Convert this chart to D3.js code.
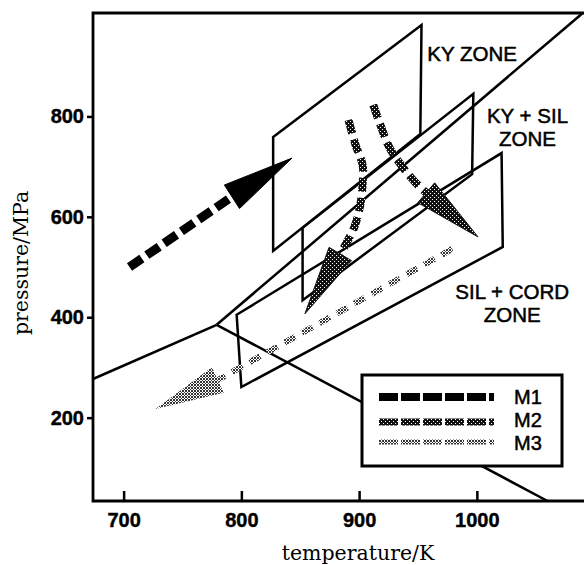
<!DOCTYPE html>
<html>
<head>
<meta charset="utf-8">
<script src="https://cdnjs.cloudflare.com/ajax/libs/d3/7.8.5/d3.min.js"></script>
<style>
  body { margin: 0; background: #fff; }
  .axisTitle { font-family: "DejaVu Serif", serif; font-size: 20.5px; }
  .zoneLabel { font-family: "Liberation Sans", Arial, sans-serif; font-size: 20.5px; }
  .legendText { font-family: "Liberation Sans", Arial, sans-serif; font-size: 20px; }
</style>
</head>
<body>
<script>
// Data (temperature in K, pressure in MPa)

let tempTicks = [700, 800, 900, 1000]
let pressTicks = [200, 400, 600, 800]

// Al2SiO5 reaction lines meeting at the triple point
let triplePoint = [779, 385]
let kyAndLine = [[674, 277], triplePoint]
let kySilLine = [triplePoint, [1090, 1006]]
let andSilLine = [triplePoint, [1060, 34]]

// zone planes, corners in order
let kyZone = [[827, 759], [953, 982], [952, 765], [827, 532]]
let kySilZone = [[852, 578], [997, 845], [996, 685], [852, 434]]
let silCordZone = [[796, 405], [1021, 727], [1022, 540], [800, 261]]

let zoneNames = [["KY ZONE"], ["KY + SIL", "ZONE"], ["SIL + CORD", "ZONE"]]
let zoneLabelAt = [[996, 910], [1043, 786], [1030, 436]]

// P-T paths: shaft points (last one is the arrow head base), then the tip
let m1Path = [[705, 500], [792, 640]]
let m1Tip = [843, 717]
let m2PathA = [[891, 793], [897, 743], [903, 703], [903, 666], [901, 624], [896, 580], [884, 526]]
let m2TipA = [854, 407]
let m2PathB = [[912, 823], [919, 777], [926, 737], [937, 699], [948, 668], [957, 648]]
let m2TipB = [1001, 560]
let m3Path = [[979, 536], [780, 275]]
let m3Tip = [727, 217]

let seriesNames = ["M1", "M2", "M3"]

// Chart setup

let svgWidth = 584
let svgHeight = 565

var margin = {
    top: 13,
    right: 0,
    bottom: 64,
    left: 93
  };

let width = svgWidth - margin.left - margin.right;
let height = svgHeight - margin.top - margin.bottom;

let svg = d3.select("body")
          .append("svg")
          .attr('width', svgWidth)
          .attr('height', svgHeight)

// stipple fills for M2 and M3
let defs = svg.append("defs")
let dark = defs.append("pattern").attr("id", "stippleDark")
    .attr("width", 4).attr("height", 4).attr("patternUnits", "userSpaceOnUse")
dark.append("rect").attr("width", 4).attr("height", 4).attr("fill", "#111")
dark.append("rect").attr("x", 1).attr("y", 0).attr("width", 1).attr("height", 1).attr("fill", "#fff")
dark.append("rect").attr("x", 3).attr("y", 2).attr("width", 1).attr("height", 1).attr("fill", "#fff")

let light = defs.append("pattern").attr("id", "stippleLight")
    .attr("width", 3).attr("height", 3).attr("patternUnits", "userSpaceOnUse")
light.append("rect").attr("width", 3).attr("height", 3).attr("fill", "#fff")
;[[0, 0], [2, 0], [1, 1], [0, 2], [2, 2]].forEach(c => {
    light.append("rect").attr("x", c[0]).attr("y", c[1]).attr("width", 1).attr("height", 1).attr("fill", "#333")
})

let chartGroup = svg.append("g")
  .attr("transform", `translate(${margin.left}, ${margin.top})`)

let xScale = d3.scaleLinear()
    .domain([674, 1091])
    .range([0, width]);

let yScale = d3.scaleLinear()
    .domain([34, 1006])
    .range([height, 0]);

let pt = d => [xScale(d[0]), yScale(d[1])]
let straight = d3.line().x(d => xScale(d[0])).y(d => yScale(d[1]))
let smooth = d3.line().curve(d3.curveCatmullRom.alpha(0.5)).x(d => xScale(d[0])).y(d => yScale(d[1]))

// Axes

let bottomAxis = d3.axisBottom(xScale).tickValues(tempTicks).tickFormat(d3.format("d"))
    .tickSize(-10).tickPadding(12).tickSizeOuter(0);
let leftAxis = d3.axisLeft(yScale).tickValues(pressTicks).tickFormat(d3.format("d"))
    .tickSize(6).tickPadding(3).tickSizeOuter(0);

chartGroup.append("g")
    .attr("transform", `translate(0, ${height})`)
    .call(bottomAxis);

chartGroup.append("g")
    .call(leftAxis);

chartGroup.selectAll(".domain").remove()
chartGroup.selectAll(".tick line").attr("stroke", "#000").attr("stroke-width", 2.5)
chartGroup.selectAll(".tick text")
    .attr("fill", "#000")
    .attr("stroke", "#000")
    .attr("stroke-width", 0.4)
    .attr("font-family", '"Liberation Sans", Arial, sans-serif')
    .attr("font-size", 20)
    .attr("font-weight", "bold")

// frame (right side runs off the page)
chartGroup.append("path")
    .attr("d", `M${width + 6},0 H0 V${height} H${width + 6}`)
    .attr("fill", "none")
    .attr("stroke", "#000")
    .attr("stroke-width", 2.8)

// Reaction lines

let lineGroup = chartGroup.append("g")
    .attr("fill", "none")
    .attr("stroke", "#000")
    .attr("stroke-width", 2.5)

;[kyAndLine, kySilLine, andSilLine].forEach(l => {
    lineGroup.append("path").attr("d", straight(l))
})

// Zones

;[kyZone, kySilZone, silCordZone].forEach(z => {
    lineGroup.append("polygon")
        .attr("points", z.map(d => pt(d).join(",")).join(" "))
        .attr("stroke-linejoin", "miter")
})

zoneNames.forEach((lines, i) => {
    let p = pt(zoneLabelAt[i])
    let t = chartGroup.append("text")
        .attr("class", "zoneLabel")
        .attr("text-anchor", "middle")
        .attr("fill", "#000")
        .attr("stroke", "#000")
        .attr("stroke-width", 0.5)
    lines.forEach((s, j) => {
        t.append("tspan").attr("x", p[0]).attr("y", p[1] + j * 23).text(s)
    })
})

// Arrows

function drawArrow(path, tip, style) {
    chartGroup.append("path")
        .attr("d", path.length > 2 ? smooth(path) : straight(path))
        .attr("fill", "none")
        .attr("stroke", style.color)
        .attr("stroke-width", style.width)
        .attr("stroke-dasharray", style.dash)

    let b = pt(path[path.length - 1])
    let t = pt(tip)
    let len = Math.hypot(t[0] - b[0], t[1] - b[1])
    let ux = (t[0] - b[0]) / len, uy = (t[1] - b[1]) / len
    let hw = style.head
    chartGroup.append("polygon")
        .attr("points", [t, [b[0] - uy * hw, b[1] + ux * hw], [b[0] + uy * hw, b[1] - ux * hw]].map(d => d.join(",")).join(" "))
        .attr("fill", style.color)
        .attr("stroke", style.edge)
        .attr("stroke-width", 1)
}

let m1Style = {color: "#000", width: 9, dash: "15,6", head: 14, edge: "#000"}
let m2Style = {color: "url(#stippleDark)", width: 8, dash: "14,6", head: 13, edge: "#111"}
let m3Style = {color: "url(#stippleLight)", width: 6, dash: "12,8", head: 14, edge: "none"}

drawArrow(m1Path, m1Tip, m1Style)
drawArrow(m2PathA, m2TipA, m2Style)
drawArrow(m2PathB, m2TipB, m2Style)
drawArrow(m3Path, m3Tip, m3Style)

// Legend

let legend = chartGroup.append("g")
    .attr("transform", "translate(269, 362)")

legend.append("rect")
    .attr("width", 200)
    .attr("height", 91)
    .attr("fill", "#fff")
    .attr("stroke", "#000")
    .attr("stroke-width", 3)

let legendStyles = [m1Style, m2Style, m3Style]
let legendWidths = [8, 7, 5]
let legendRows = [22, 47, 67]
let legendBaselines = [29, 52, 75]

seriesNames.forEach((name, i) => {
    legend.append("line")
        .attr("x1", 17)
        .attr("x2", 132)
        .attr("y1", legendRows[i])
        .attr("y2", legendRows[i])
        .attr("stroke", legendStyles[i].color)
        .attr("stroke-width", legendWidths[i])
        .attr("stroke-dasharray", "19,3")

    legend.append("text")
        .attr("class", "legendText")
        .attr("x", 152)
        .attr("y", legendBaselines[i])
        .attr("fill", "#000")
        .attr("stroke", "#000")
        .attr("stroke-width", 0.5)
        .text(name)
})

// Axis titles

svg.append("text")
    .attr("class", "axisTitle")
    .attr("transform", "translate(28, 263) rotate(-90)")
    .attr("text-anchor", "middle")
    .text("pressure/MPa");

svg.append("text")
    .attr("class", "axisTitle")
    .attr("x", 358)
    .attr("y", 560)
    .attr("text-anchor", "middle")
    .text("temperature/K");
</script>
</body>
</html>
